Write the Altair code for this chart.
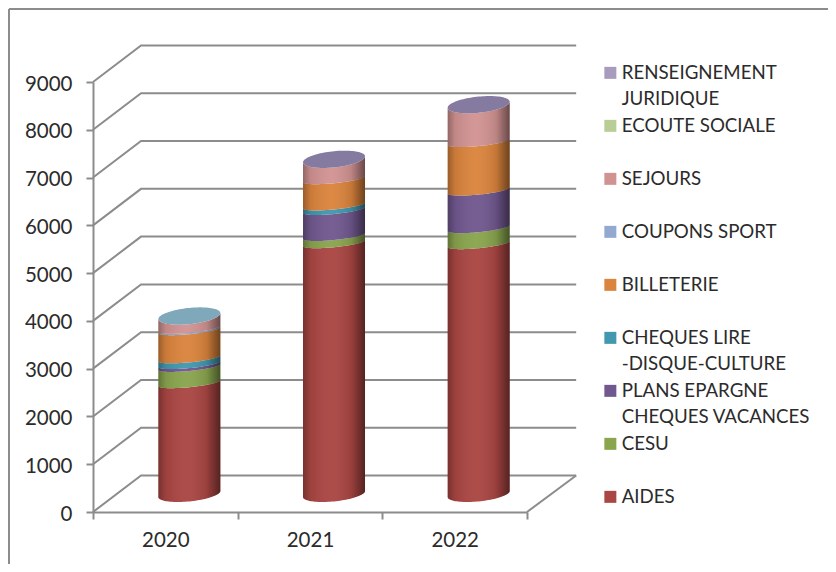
import numpy as np
import pandas as pd
import altair as alt

YEARS = ["2020", "2021", "2022"]
SERIES = ["RENSEIGNEMENT|JURIDIQUE", "ECOUTE SOCIALE", "SEJOURS", "COUPONS SPORT", "BILLETERIE",
          "CHEQUES LIRE|\u00a0\u00a0-DISQUE-CULTURE", "PLANS EPARGNE|CHEQUES VACANCES", "CESU", "AIDES"]
COLORS = ["#A99BBD", "#B9CD96", "#D19392", "#93A9CF", "#DB843D", "#4198AF", "#71588F", "#89A54E", "#AA4643"]
AIDES = [2320, 5250, 5230]
CESU = [340, 150, 335]
PLANS = [60, 545, 787]
LIRE = [120, 95, 0]
BILLETERIE = [590, 550, 1015]
COUPONS = [30, 0, 0]
SEJOURS = [265, 415, 781]
ECOUTE = [0, 0, 0]
RENSEIGNEMENT = [0, 0, 0]
TOP_COLORS = ["#7FA8BA", "#857AA0", "#857AA0"]
TICKS = list(range(0, 10000, 1000))

STACK = [AIDES, CESU, PLANS, LIRE, BILLETERIE, COUPONS, SEJOURS, ECOUTE, RENSEIGNEMENT]
STACK_NAMES = SERIES[::-1]

GREY = "#8C8C8C"
TEXT = "#2B2B2B"
FONT = "Lato"

# oblique projection of the Excel 3-D chart, in data units
DEPTH_X, DEPTH_Y = 0.332, 764
RIGHT_BACK = 2.84
BAR_DX, BAR_DY = 0.166, 377
RADIUS = 0.2143
B_BOTTOM, B_INNER, B_TOP, ELLIPSE_TILT = 155, 85, 170, 63

theta = np.linspace(np.pi, 0, 49)
T = np.cos(theta)
ARC = np.sin(theta)


def front(v, t, arc, b):
    return v + BAR_DY + ELLIPSE_TILT * t - b * arc


body_rows, shade_rows, top_rows = [], [], []
for i, year in enumerate(YEARS):
    total = sum(vals[i] for vals in STACK)
    low = 0
    for name, vals in zip(STACK_NAMES, STACK):
        high = low + vals[i]
        if vals[i] > 0:
            b_low = B_BOTTOM if low == 0 else B_INNER
            b_high = B_TOP if high == total else B_INNER
            for t, arc in zip(T, ARC):
                body_rows.append(dict(year=year, series=name, x=i + BAR_DX + RADIUS * t,
                                      y=front(low, t, arc, b_low), y2=front(high, t, arc, b_high)))
        low = high
    for t, arc in zip(T, ARC):
        shade_rows.append(dict(year=year, x=i + BAR_DX + RADIUS * t, y=front(0, t, arc, B_BOTTOM),
                               y2=front(total, t, arc, B_TOP)))
        top_rows.append(dict(year=year, x=i + BAR_DX + RADIUS * t, y=front(total, t, arc, B_TOP),
                             y2=front(total, t, arc, -B_TOP)))

grid_rows = []
for v in TICKS:
    grid_rows += [dict(v=v, k=0, x=-0.5, y=v),
                  dict(v=v, k=1, x=-0.5 + DEPTH_X, y=v + DEPTH_Y),
                  dict(v=v, k=2, x=RIGHT_BACK, y=v + DEPTH_Y)]
grid_rows += [dict(v=-1, k=0, x=2.5, y=0), dict(v=-1, k=1, x=RIGHT_BACK, y=DEPTH_Y)]

year_expr = "".join(f"datum.value=={i}?'{y}':" for i, y in enumerate(YEARS)) + "''"

x_scale = alt.Scale(domain=[-0.5, 2.5], nice=False, zero=False)
y_scale = alt.Scale(domain=[0, 9000], nice=False, zero=False)

x_axis = alt.Axis(values=[-0.5, 0, 0.5, 1, 1.5, 2, 2.5], labelExpr=year_expr, grid=False, title=None,
                  domainColor=GREY, domainWidth=2, tickColor=GREY, tickWidth=2, tickSize=7,
                  tickOpacity={"condition": {"test": "datum.value % 1 != 0", "value": 1}, "value": 0},
                  labelFont=FONT, labelFontSize=20.5, labelColor=TEXT, labelPadding=11, labelBaseline="top",
                  labelOverlap=False, labelFlush=False)
y_axis = alt.Axis(values=TICKS, format="d", grid=False, title=None,
                  domainColor=GREY, domainWidth=2, tickColor=GREY, tickWidth=2, tickSize=7,
                  labelFont=FONT, labelFontSize=20.5, labelColor=TEXT, labelPadding=14, labelOffset=2)

X = alt.X("x:Q", scale=x_scale, axis=x_axis)
Y = alt.Y("y:Q", scale=y_scale, axis=y_axis, stack=None)

grid = alt.Chart(pd.DataFrame(grid_rows)).mark_line(color=GREY, strokeWidth=2, strokeJoin="miter", clip=False).encode(
    x=X, y=Y, detail="v:N", order="k:Q")

body = alt.Chart(pd.DataFrame(body_rows)).mark_area(clip=False, opacity=1).encode(
    x=X, y=Y, y2="y2:Q", detail="year:N",
    color=alt.Color("series:N", scale=alt.Scale(domain=SERIES, range=COLORS),
                    legend=alt.Legend(title=None, orient="none", legendX=508, legendY=-18.5, padding=0,
                                      columns=1, symbolType="square", symbolSize=144, symbolStrokeWidth=0,
                                      symbolOpacity=1, labelFont=FONT, labelFontSize=18.7, labelColor=TEXT,
                                      labelOffset=2, gridAlign="all", rowPadding=7, labelLimit=260,
                                      labelExpr="split(datum.label,'|')",
                                      values=SERIES)))

shade_grad = alt.LinearGradient(
    gradient="linear", x1=0, x2=1, y1=0, y2=0,
    stops=[alt.GradientStop(color="rgba(0,0,0,0.30)", offset=0),
           alt.GradientStop(color="rgba(0,0,0,0.08)", offset=0.12),
           alt.GradientStop(color="rgba(255,255,255,0.04)", offset=0.45),
           alt.GradientStop(color="rgba(0,0,0,0.10)", offset=0.78),
           alt.GradientStop(color="rgba(0,0,0,0.50)", offset=1)])

shade_df = pd.DataFrame(shade_rows)
top_df = pd.DataFrame(top_rows)
shades = [alt.Chart(shade_df[shade_df.year == y]).mark_area(color=shade_grad, clip=False).encode(x=X, y=Y, y2="y2:Q")
          for y in YEARS]
tops = [alt.Chart(top_df[top_df.year == y]).mark_area(color=c, clip=False).encode(x=X, y=Y, y2="y2:Q")
        for y, c in zip(YEARS, TOP_COLORS)]

one = pd.DataFrame({"a": [0]})
frame_left = alt.Chart(one).mark_rule(color=GREY, strokeWidth=2).encode(
    x=alt.value(-84), y=alt.value(-73), y2=alt.value(482))
frame_top = alt.Chart(one).mark_rule(color=GREY, strokeWidth=2).encode(
    y=alt.value(-73), x=alt.value(-84), x2=alt.value(735))

chart = alt.layer(grid, body, *shades, *tops, frame_left, frame_top).properties(
    width=434, height=430,
    autosize=alt.AutoSizeParams(type="none"),
    padding={"left": 85, "top": 74, "right": 301, "bottom": 52},
    background="white",
    config={"view": {"stroke": None}, "style": {"guide-label": {"lineHeight": 26.5}}},
)

chart.save("out.html", embed_options={"renderer": "svg", "actions": False})
